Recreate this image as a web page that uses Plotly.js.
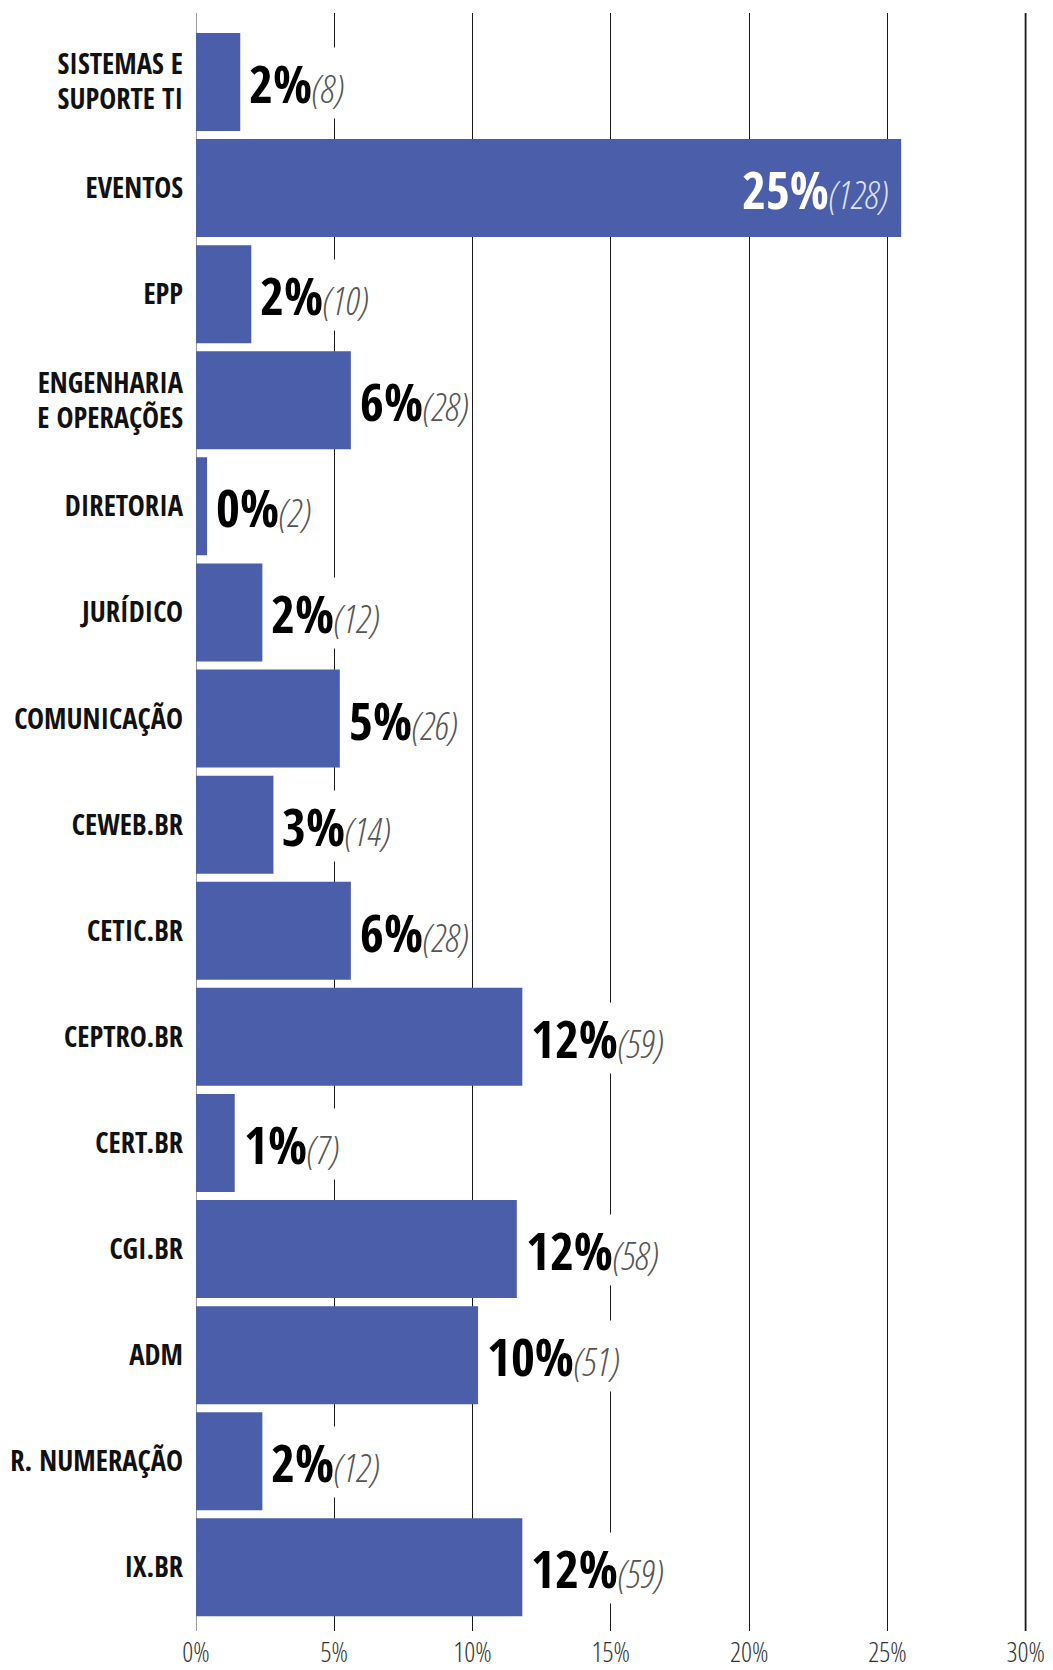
<!DOCTYPE html>
<html>
<head>
<meta charset="utf-8">
<script src="https://cdn.plot.ly/plotly-3.0.1.min.js"></script>
<style>
  html, body { margin: 0; padding: 0; background: #fff; }
  #chart { width: 1053px; height: 1670px; }
</style>
<style id="stretchcss"></style>
</head>
<body>
<div id="chart"></div>
<script>
// Categories (top to bottom)
const categories = [
  "SISTEMAS E<br>SUPORTE TI", "EVENTOS", "EPP", "ENGENHARIA<br>E OPERAÇÕES", "DIRETORIA",
  "JURÍDICO", "COMUNICAÇÃO", "CEWEB.BR", "CETIC.BR", "CEPTRO.BR",
  "CERT.BR", "CGI.BR", "ADM", "R. NUMERAÇÃO", "IX.BR"
];
// Bar lengths (% of total)
const shares = [1.6, 25.5, 2.0, 5.6, 0.4, 2.4, 5.2, 2.8, 5.6, 11.8, 1.4, 11.6, 10.2, 2.4, 11.8];
// Printed percent labels
const pctLabels = ["2%", "25%", "2%", "6%", "0%", "2%", "5%", "3%", "6%", "12%", "1%", "12%", "10%", "2%", "12%"];
// Printed counts
const counts = [8, 128, 10, 28, 2, 12, 26, 14, 28, 59, 7, 58, 51, 12, 59];
// X tick values
const xTicks = [0, 5, 10, 15, 20, 25, 30];
const xTickText = ["0%", "5%", "10%", "15%", "20%", "25%", "30%"];

// ---- pick installed condensed fonts ----
function mw(fam, stretch, weight, style, text) {
  const el = document.createElement("span");
  el.style.cssText = "position:absolute;left:0;top:0;visibility:hidden;white-space:nowrap;font-size:100px;";
  el.style.fontFamily = fam;
  el.style.fontStretch = stretch;
  el.style.fontWeight = weight;
  el.style.fontStyle = style;
  el.textContent = text;
  document.body.appendChild(el);
  const w = el.getBoundingClientRect().width;
  el.remove();
  return w;
}
function hasFont(f, wt) {
  const t = "COMUNICAÇÃO il 0123";
  return Math.abs(mw("'" + f + "', monospace", "100%", wt, "normal", t) -
                  mw("'" + f + "', serif", "100%", wt, "normal", t)) < 0.5;
}
const families = ["Roboto Condensed", "Open Sans Condensed", "Liberation Sans Narrow",
  "DejaVu Sans Condensed", "Noto Sans", "Open Sans", "Roboto", "Liberation Sans", "DejaVu Sans", "Lato", "Inter"];
const stretches = ["62.5%", "75%", "87.5%", "100%"];

// bold face for category labels / percents
let best = { fam: "DejaVu Sans", stretch: "100%", d: 1e9 };
families.forEach(f => {
  if (!hasFont(f, "700")) return;
  stretches.forEach(s => {
    const w = mw("'" + f + "', sans-serif", s, "700", "normal", "COMUNICAÇÃO");
    const d = Math.abs(w - 480);
    if (d < best.d - 0.5) best = { fam: f, stretch: s, d: d };
  });
});
// light face for ticks / counts (must really be lighter than bold)
let light = { fam: best.fam, stretch: best.stretch, d: 1e9 };
families.forEach(f => {
  if (!hasFont(f, "300")) return;
  stretches.forEach(s => {
    const fam = "'" + f + "', sans-serif";
    const w3 = mw(fam, s, "300", "normal", "COMUNICAÇÃO 30%");
    const w7 = mw(fam, s, "700", "normal", "COMUNICAÇÃO 30%");
    if (w7 - w3 < 3) return;
    const wt = mw(fam, s, "300", "normal", "30%");
    const d = Math.abs(wt - 150);
    if (d < light.d - 0.5) light = { fam: f, stretch: s, d: d };
  });
});

const FONT = "'" + best.fam + "', sans-serif";
const LFONT = "'" + light.fam + "', sans-serif";
document.getElementById("stretchcss").textContent =
  "text { font-stretch: " + best.stretch + "; } " +
  ".xtick text { font-stretch: " + light.stretch + "; }";

function sizeFor(fam, stretch, text, weight, style, targetPx) {
  const w = mw(fam, stretch, weight, style, text);
  return Math.round(targetPx / (w / 100) * 10) / 10;
}
const catSize = Math.min(36, sizeFor(FONT, best.stretch, "COMUNICAÇÃO", "700", "normal", 169));
const pctSize = Math.min(56, sizeFor(FONT, best.stretch, "25%", "700", "normal", 87));
const cntSize = Math.min(38, sizeFor(LFONT, light.stretch, "(128)", "300", "italic", 68));
const tickSize = Math.min(27, sizeFor(LFONT, light.stretch, "30%", "300", "normal", 43));

const BAR = "#4b5ea9";

const trace = {
  type: "bar",
  orientation: "h",
  x: shares,
  y: categories,
  marker: { color: BAR, line: { width: 0 } },
  hoverinfo: "skip"
};

const insideIdx = shares.indexOf(Math.max(...shares));

const annotations = categories.map((c, i) => {
  const inside = i === insideIdx;
  const pctColor = inside ? "#ffffff" : "#000000";
  const cntColor = inside ? "#dde2f2" : "#555555";
  return {
    x: shares[i],
    y: c,
    xref: "x",
    yref: "y",
    xanchor: inside ? "right" : "left",
    yanchor: "middle",
    xshift: inside ? -11 : 8,
    yshift: -1,
    showarrow: false,
    bgcolor: inside ? "rgba(0,0,0,0)" : "#ffffff",
    borderpad: 0,
    font: { family: FONT, size: pctSize, color: pctColor, weight: 600 },
    text: pctLabels[i] +
          "<span style=\"font-family:" + LFONT.replace(/"/g, "'") + ";font-stretch:" + light.stretch +
          ";font-size:" + cntSize + "px;font-weight:300;font-style:italic;fill:" + cntColor + "\">(" + counts[i] + ")</span>"
  };
});

const lastTick = xTicks[xTicks.length - 1];

const layout = {
  width: 1053,
  height: 1670,
  margin: { l: 196, r: 26, t: 13, b: 39, pad: 0 },
  paper_bgcolor: "#ffffff",
  plot_bgcolor: "#ffffff",
  showlegend: false,
  bargap: 0.076,
  font: { family: FONT, color: "#111" },
  xaxis: {
    range: [0, 30.05],
    tickvals: xTicks,
    ticktext: xTickText,
    showgrid: true,
    gridcolor: "#1a1a1a",
    gridwidth: 1,
    zeroline: true,
    zerolinecolor: "#9a9a9a",
    zerolinewidth: 1,
    showline: false,
    ticks: "",
    ticklabelstandoff: 3,
    tickfont: { family: LFONT, size: tickSize, color: "#333333", weight: 300 },
    fixedrange: true
  },
  yaxis: {
    type: "category",
    range: [14.6, -0.65],
    showgrid: false,
    zeroline: false,
    showline: false,
    ticks: "",
    ticklabelstandoff: 12,
    tickfont: { family: FONT, size: catSize, color: "#111111", weight: "bold" },
    fixedrange: true
  },
  shapes: [{
    type: "line", xref: "x", yref: "paper",
    x0: lastTick, x1: lastTick, y0: 0, y1: 1,
    line: { color: "#444444", width: 2 },
    layer: "below"
  }],
  annotations: annotations
};

Plotly.newPlot("chart", [trace], layout, { displayModeBar: false, staticPlot: true }).then(gd => {
  // tighten line spacing of two-line category labels (reference spacing ~34px)
  const want = 35 / catSize; // em
  gd.querySelectorAll(".ytick text").forEach(t => {
    const lines = t.querySelectorAll("tspan.line");
    if (lines.length === 2) {
      const off = (1.3 - want) / 2;
      lines[0].setAttribute("dy", off + "em");
      lines[1].setAttribute("dy", (off + want) + "em");
    }
  });
});
</script>
</body>
</html>
